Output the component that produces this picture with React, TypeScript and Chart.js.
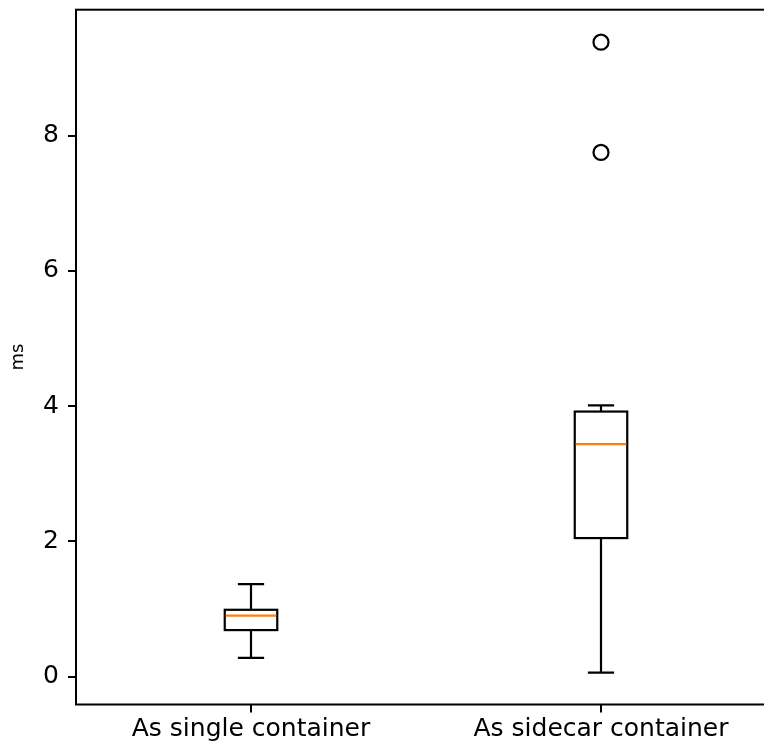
import React, { useEffect, useRef } from 'react';
import { Chart, registerables } from 'chart.js';

Chart.register(...registerables);

const categories = ['As single container', 'As sidecar container'];
const positions = [1, 2];
const whiskerLow = [0.28, 0.06];
const q1 = [0.69, 2.05];
const median = [0.905, 3.44];
const q3 = [0.99, 3.92];
const whiskerHigh = [1.37, 4.01];
const outlierPos = [2, 2];
const outlierValues = [7.75, 9.38];
const yTicks = [0, 2, 4, 6, 8];
const yMin = -0.41;
const yMax = 9.86;
const xMin = 0.5;
const xMax = 2.5;
const boxWidth = 0.15;
const capWidth = 0.075;

const FONT = "'DejaVu Sans', sans-serif";

const boxPlugin = {
  id: 'boxes',
  beforeDatasetsDraw(chart: any) {
    const { ctx, scales, chartArea } = chart;
    const x = scales.x;
    const y = scales.y;
    ctx.save();
    ctx.beginPath();
    ctx.rect(chartArea.left, chartArea.top, chartArea.right - chartArea.left, chartArea.bottom - chartArea.top);
    ctx.clip();
    const line = (x1: number, y1: number, x2: number, y2: number) => {
      ctx.beginPath();
      ctx.moveTo(x1, y1);
      ctx.lineTo(x2, y2);
      ctx.stroke();
    };
    categories.forEach((_, i) => {
      const p = positions[i];
      const xc = x.getPixelForValue(p);
      const xl = x.getPixelForValue(p - boxWidth / 2);
      const xr = x.getPixelForValue(p + boxWidth / 2);
      const cl = x.getPixelForValue(p - capWidth / 2);
      const cr = x.getPixelForValue(p + capWidth / 2);
      const yLo = y.getPixelForValue(whiskerLow[i]);
      const yQ1 = y.getPixelForValue(q1[i]);
      const yMed = y.getPixelForValue(median[i]);
      const yQ3 = y.getPixelForValue(q3[i]);
      const yHi = y.getPixelForValue(whiskerHigh[i]);
      ctx.strokeStyle = '#000';
      ctx.lineWidth = 2.2;
      line(xc, yQ1, xc, yLo);
      line(xc, yQ3, xc, yHi);
      line(cl, yLo, cr, yLo);
      line(cl, yHi, cr, yHi);
      ctx.strokeRect(xl, yQ3, xr - xl, yQ1 - yQ3);
      ctx.strokeStyle = '#ff7f0e';
      line(xl + 1, yMed, xr - 1, yMed);
    });
    ctx.restore();
  },
  afterDraw(chart: any) {
    const { ctx, chartArea } = chart;
    ctx.save();
    ctx.strokeStyle = '#000';
    ctx.lineWidth = 2;
    ctx.strokeRect(chartArea.left, chartArea.top, chartArea.right - chartArea.left, chartArea.bottom - chartArea.top);
    ctx.restore();
  },
};

export default function App() {
  const ref = useRef<HTMLCanvasElement | null>(null);
  useEffect(() => {
    if (!ref.current) return;
    const chart = new Chart(ref.current, {
      type: 'scatter',
      data: {
        datasets: [
          {
            label: 'outliers',
            data: outlierPos.map((p, i) => ({ x: p, y: outlierValues[i] })),
            pointRadius: 7.5,
            pointHoverRadius: 7.5,
            pointBorderWidth: 2.2,
            pointBackgroundColor: 'rgba(0,0,0,0)',
            pointBorderColor: '#000',
            showLine: false,
          },
        ],
      },
      options: {
        responsive: false,
        animation: false,
        devicePixelRatio: 1,
        layout: { padding: { top: 9, right: 24, left: 0, bottom: 0 } },
        plugins: { legend: { display: false }, tooltip: { enabled: false } },
        scales: {
          x: {
            type: 'linear',
            min: xMin,
            max: xMax,
            afterBuildTicks: (s: any) => {
              s.ticks = positions.map((v) => ({ value: v }));
            },
            afterFit: (s: any) => {
              s.height = 42.5;
              s.paddingLeft = 0;
              s.paddingRight = 0;
            },
            grid: { display: true, drawOnChartArea: false, drawTicks: true, tickLength: 8, color: '#000', lineWidth: 2 },
            border: { display: false },
            ticks: {
              color: '#000',
              padding: 2,
              maxRotation: 0,
              autoSkip: false,
              font: { family: FONT, size: 25 },
              callback: (v: any) => {
                const i = positions.indexOf(Number(v));
                return i >= 0 ? categories[i] : '';
              },
            },
          },
          y: {
            type: 'linear',
            min: yMin,
            max: yMax,
            afterBuildTicks: (s: any) => {
              s.ticks = yTicks.map((v) => ({ value: v }));
            },
            afterFit: (s: any) => {
              s.width = 76;
              s.paddingTop = 0;
              s.paddingBottom = 0;
            },
            grid: { display: true, drawOnChartArea: false, drawTicks: true, tickLength: 8, color: '#000', lineWidth: 2 },
            border: { display: false },
            title: { display: true, text: 'ms', color: '#000', font: { family: FONT, size: 18 }, padding: { top: 8, bottom: 0 } },
            ticks: {
              color: '#000',
              padding: 9,
              font: { family: FONT, size: 25 },
              callback: (v: any) => String(v),
            },
          },
        },
      },
      plugins: [boxPlugin],
    });
    return () => chart.destroy();
  }, []);
  return (
    <div style={{ position: 'fixed', left: 0, top: 0, width: 764, height: 747, overflow: 'hidden', background: '#fff' }}>
      <canvas ref={ref} width={800} height={747} style={{ display: 'block', width: 800, height: 747 }} />
    </div>
  );
}
